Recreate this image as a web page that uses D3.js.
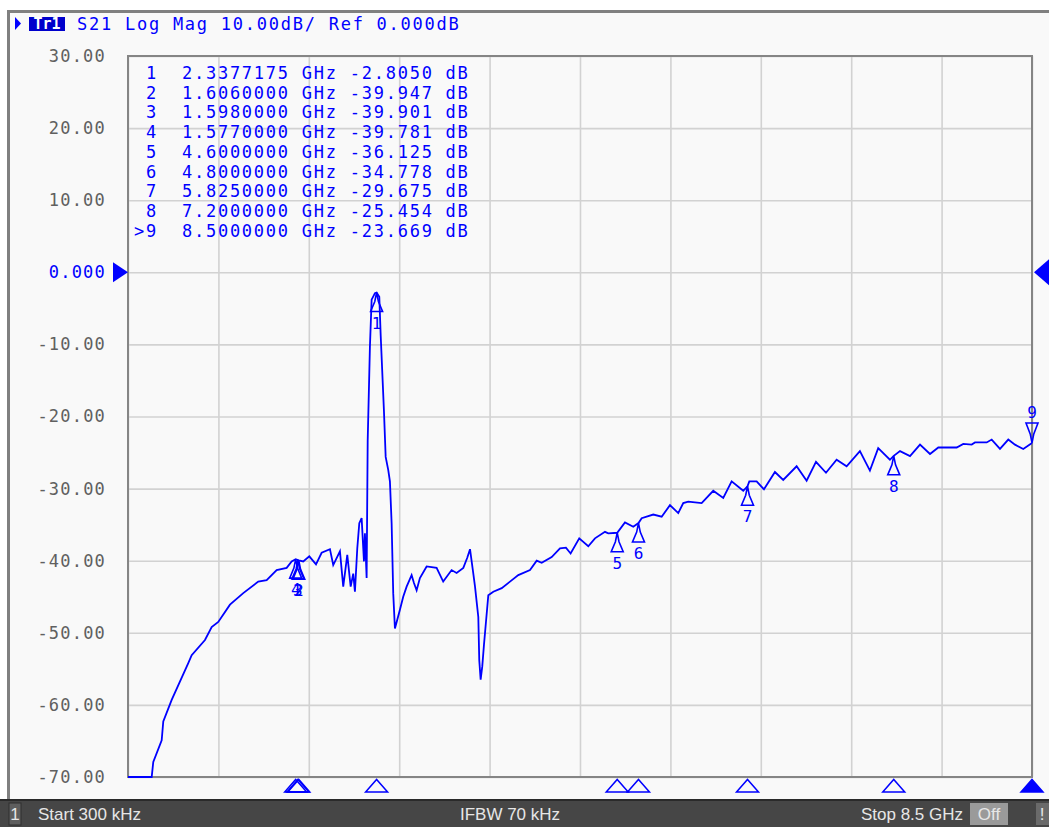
<!DOCTYPE html>
<html>
<head>
<meta charset="utf-8">
<script src="https://cdn.jsdelivr.net/npm/d3@7"></script>
<style>
  html, body { margin: 0; padding: 0; background: #ffffff; }
  svg { display: block; }
  .mono { font-family: 'DejaVu Sans Mono', monospace; font-size: 17px; letter-spacing: 1.75px; white-space: pre; }
  .bar { font-family: 'Liberation Sans Narrow', 'Liberation Sans', sans-serif; font-size: 17px; fill: #e6e6e6; }
</style>
</head>
<body>
<svg id="chart" width="1049" height="827"></svg>
<script>
// stimulus / scale
const startGHz = 0.0003;
const stopGHz = 8.5;
const yTicks = [30, 20, 10, 0, -10, -20, -30, -40, -50, -60, -70];
const yTickLabels = ['30.00', '20.00', '10.00', '0.000', '-10.00', '-20.00', '-30.00', '-40.00', '-50.00', '-60.00', '-70.00'];

// S21 trace
const traceFreq = [0.0003, 0.223, 0.238, 0.317, 0.332, 0.411, 0.567, 0.599, 0.724, 0.787, 0.849, 0.959, 1.084, 1.225, 1.304, 1.398, 1.492, 1.539, 1.577, 1.598, 1.606, 1.648, 1.705, 1.768, 1.821, 1.899, 1.930, 1.993, 2.024, 2.062, 2.094, 2.118, 2.134, 2.156, 2.175, 2.197, 2.219, 2.228, 2.244, 2.254, 2.275, 2.291, 2.322, 2.338, 2.363, 2.376, 2.407, 2.423, 2.447, 2.463, 2.479, 2.494, 2.510, 2.532, 2.557, 2.588, 2.620, 2.667, 2.689, 2.714, 2.745, 2.808, 2.902, 2.964, 3.043, 3.090, 3.153, 3.190, 3.216, 3.247, 3.263, 3.294, 3.303, 3.316, 3.331, 3.347, 3.366, 3.388, 3.435, 3.514, 3.592, 3.670, 3.780, 3.843, 3.890, 3.984, 4.062, 4.118, 4.162, 4.243, 4.328, 4.391, 4.485, 4.516, 4.600, 4.673, 4.751, 4.800, 4.830, 4.939, 5.018, 5.096, 5.174, 5.221, 5.268, 5.394, 5.503, 5.597, 5.676, 5.785, 5.825, 5.842, 5.911, 5.980, 6.083, 6.161, 6.287, 6.381, 6.469, 6.563, 6.663, 6.757, 6.882, 6.976, 7.054, 7.164, 7.200, 7.259, 7.353, 7.447, 7.541, 7.619, 7.792, 7.854, 7.933, 7.964, 8.074, 8.121, 8.199, 8.277, 8.340, 8.418, 8.500];
const traceDb = [-70, -70, -67.9, -64.9, -62.3, -59.3, -54.2, -53.1, -51.0, -49.2, -48.5, -46.1, -44.5, -42.9, -42.7, -41.3, -41.0, -40.1, -39.781, -39.901, -39.947, -40.1, -39.4, -40.5, -38.9, -38.4, -40.6, -38.7, -43.6, -39.2, -43.6, -41.8, -44.3, -38.3, -34.8, -34.1, -40.1, -36.2, -42.4, -23.3, -10.3, -3.8, -2.9, -2.805, -3.4, -8.7, -19.3, -25.6, -27.4, -29.0, -34.8, -44.5, -49.4, -48.2, -46.8, -45.0, -43.6, -42.0, -43.1, -44.1, -42.4, -40.8, -41.0, -42.9, -41.3, -41.7, -41.0, -39.6, -38.4, -41.8, -43.6, -47.8, -53.8, -56.5, -54.7, -51.7, -48.5, -44.8, -44.3, -43.8, -42.9, -42.0, -41.3, -40.0, -40.3, -39.5, -38.3, -38.2, -39.0, -36.9, -38.0, -36.9, -36.0, -36.2, -36.125, -34.7, -35.3, -34.778, -34.1, -33.6, -33.9, -32.3, -33.4, -32.0, -31.8, -32.0, -30.3, -31.3, -29.0, -30.3, -29.675, -29.0, -29.0, -30.1, -27.7, -28.8, -26.9, -28.9, -26.3, -27.8, -26.0, -26.9, -24.8, -27.5, -24.4, -26.0, -25.454, -24.8, -25.5, -23.9, -25.2, -24.3, -24.3, -23.8, -23.9, -23.6, -23.6, -23.2, -24.5, -23.2, -23.9, -24.5, -23.669];

// markers
const markerIds = ['1', '2', '3', '4', '5', '6', '7', '8', '9'];
const markerFreq = [2.3377175, 1.606, 1.598, 1.577, 4.6, 4.8, 5.825, 7.2, 8.5];
const markerDb = [-2.805, -39.947, -39.901, -39.781, -36.125, -34.778, -29.675, -25.454, -23.669];
const activeMarker = '9';

const svg = d3.select('#chart');
const plotLeft = 128, plotRight = 1032, plotTop = 56, plotBottom = 777;
const blue = '#0000ff';

const x = d3.scaleLinear().domain([startGHz, stopGHz]).range([plotLeft, plotRight]);
const y = d3.scaleLinear().domain([-70, 30]).range([plotBottom, plotTop]);

// panel frame
svg.append('rect').attr('x', 8).attr('y', 11).attr('width', 1041).attr('height', 789).attr('fill', '#f9f9f9');
svg.append('rect').attr('x', 8).attr('y', 10).attr('width', 1041).attr('height', 3).attr('fill', '#808080');
svg.append('rect').attr('x', 7).attr('y', 10).attr('width', 3).attr('height', 792).attr('fill', '#808080');

// grid
const xGrid = d3.range(11).map((i) => startGHz + (i * (stopGHz - startGHz)) / 10);
svg.append('g')
	.attr('transform', 'translate(0,' + plotBottom + ')')
	.call(d3.axisBottom(x).tickValues(xGrid).tickSize(-(plotBottom - plotTop)).tickFormat(''))
	.call((g) => g.select('.domain').remove())
	.selectAll('line').attr('stroke', '#d2d2d2').attr('stroke-width', 1.6);

svg.append('g')
	.attr('transform', 'translate(' + plotLeft + ',0)')
	.call(d3.axisLeft(y).tickValues(yTicks).tickSize(-(plotRight - plotLeft)).tickFormat(''))
	.call((g) => g.select('.domain').remove())
	.selectAll('line').attr('stroke', '#d2d2d2').attr('stroke-width', 1.6);

svg.append('rect')
	.attr('x', plotLeft).attr('y', plotTop).attr('width', plotRight - plotLeft).attr('height', plotBottom - plotTop)
	.attr('fill', 'none').attr('stroke', '#858585').attr('stroke-width', 2);

// y tick labels
const yAxis = svg.append('g')
	.attr('transform', 'translate(106,0)')
	.call(d3.axisLeft(y).tickValues(yTicks).tickSize(0).tickPadding(0).tickFormat((d, i) => yTickLabels[i]));
yAxis.select('.domain').remove();
yAxis.selectAll('text')
	.attr('class', 'mono')
	.attr('fill', (d) => (d === 0 ? blue : '#606060'))
	.style('font-size', '17px')
	.style('letter-spacing', '1.2px');

// reference level arrows
svg.append('path').attr('d', `M113,${y(0) - 10} L128,${y(0)} L113,${y(0) + 10} Z`).attr('fill', blue);
svg.append('path').attr('d', `M1049,${y(0) - 13} L1034,${y(0)} L1049,${y(0) + 13} Z`).attr('fill', blue);

// header
svg.append('path').attr('d', 'M15,17 L21,23.5 L15,30 Z').attr('fill', blue);
svg.append('rect').attr('x', 29).attr('y', 17).attr('width', 36).attr('height', 14).attr('fill', '#0000cc');
svg.append('text').attr('x', 47).attr('y', 29).attr('text-anchor', 'middle')
	.attr('font-family', 'DejaVu Sans Mono, monospace').attr('font-size', 15).attr('font-weight', 'bold')
	.attr('fill', '#ffffff').text('Tr1');
svg.append('text').attr('class', 'mono').attr('x', 77).attr('y', 30).attr('fill', blue)
	.text('S21 Log Mag 10.00dB/ Ref 0.000dB');

// trace
const clip = svg.append('clipPath').attr('id', 'plot-clip');
clip.append('rect').attr('x', plotLeft).attr('y', plotTop - 30).attr('width', plotRight - plotLeft + 2).attr('height', plotBottom - plotTop + 31);

svg.append('path')
	.datum(traceFreq.map((f, i) => [f, traceDb[i]]))
	.attr('clip-path', 'url(#plot-clip)')
	.attr('fill', 'none')
	.attr('stroke', blue)
	.attr('stroke-width', 1.8)
	.attr('stroke-linejoin', 'miter')
	.attr('d', d3.line().x((d) => x(d[0])).y((d) => y(d[1])));

// marker table
const fmtDb = (v) => (Math.abs(v) >= 10 ? v.toFixed(3) : v.toFixed(4)).padStart(7, ' ');
svg.append('g')
	.selectAll('text')
	.data(markerIds)
	.enter()
	.append('text')
	.attr('class', 'mono')
	.attr('x', 134)
	.attr('y', (d, i) => 79 + i * 19.7)
	.attr('fill', blue)
	.text((d, i) => (d === activeMarker ? '>' : ' ') + d + '  ' + markerFreq[i].toFixed(7) + ' GHz ' + fmtDb(markerDb[i]) + ' dB');

// markers on trace
const markers = svg.append('g').selectAll('g').data(markerIds).enter().append('g')
	.attr('transform', (d, i) => 'translate(' + x(markerFreq[i]) + ',' + y(markerDb[i]) + ')');

markers.append('path')
	.attr('d', (d) => (d === activeMarker
		? 'M0,0 L-1.8,-9 L-6,-20 L6,-20 L1.8,-9 Z'
		: 'M0,0 L-1.8,9 L-6,19 L6,19 L1.8,9 Z'))
	.attr('fill', 'none')
	.attr('stroke', blue)
	.attr('stroke-width', 1.6);

markers.append('text')
	.attr('text-anchor', 'middle')
	.attr('font-family', 'DejaVu Sans Mono, monospace')
	.attr('font-size', 16)
	.attr('fill', blue)
	.attr('y', (d) => (d === activeMarker ? -25 : 36))
	.text((d) => d);

// stimulus markers under the grid
svg.append('g').selectAll('path').data(markerIds).enter().append('path')
	.attr('d', (d, i) => {
		const cx = x(markerFreq[i]);
		return `M${cx - 11},792 L${cx},779.5 L${cx + 11},792 Z`;
	})
	.attr('fill', (d) => (d === activeMarker ? blue : 'none'))
	.attr('stroke', blue)
	.attr('stroke-width', 1.5);

// status bar
svg.append('rect').attr('x', 0).attr('y', 800).attr('width', 1049).attr('height', 27).attr('fill', '#464646');
svg.append('rect').attr('x', 0).attr('y', 799).attr('width', 1049).attr('height', 2).attr('fill', '#2a2a2a');
svg.append('rect').attr('x', 9).attr('y', 803).attr('width', 12).attr('height', 22).attr('fill', '#5e5e5e').attr('stroke', '#2f2f2f');
svg.append('text').attr('class', 'bar').attr('x', 15).attr('y', 820).attr('text-anchor', 'middle').text('1');
svg.append('text').attr('class', 'bar').attr('x', 38).attr('y', 820).text('Start 300 kHz');
svg.append('text').attr('class', 'bar').attr('x', 510).attr('y', 820).attr('text-anchor', 'middle').text('IFBW 70 kHz');
svg.append('text').attr('class', 'bar').attr('x', 963).attr('y', 820).attr('text-anchor', 'end').text('Stop 8.5 GHz');
svg.append('rect').attr('x', 970).attr('y', 803).attr('width', 38).attr('height', 22).attr('fill', '#9a9a9a');
svg.append('text').attr('class', 'bar').attr('x', 989).attr('y', 820).attr('text-anchor', 'middle').attr('fill', '#d8d8d8').text('Off');
svg.append('rect').attr('x', 1036).attr('y', 803).attr('width', 13).attr('height', 22).attr('fill', '#6a6a6a');
svg.append('text').attr('class', 'bar').attr('x', 1042).attr('y', 820).attr('text-anchor', 'middle').text('!');
</script>
</body>
</html>
